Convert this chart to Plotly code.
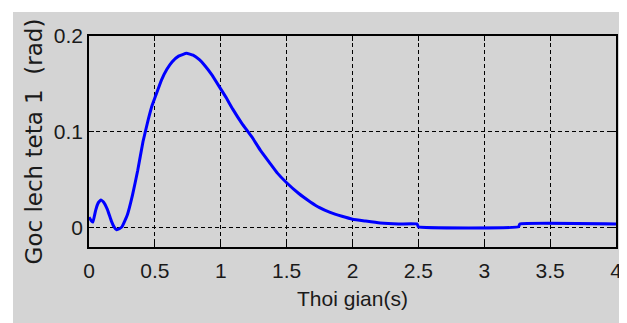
import plotly.graph_objects as go

# Data
t = [0.0, 0.02, 0.03, 0.05, 0.07, 0.09, 0.11, 0.14, 0.17, 0.19, 0.21, 0.23,
     0.25, 0.29, 0.33, 0.37, 0.41, 0.45, 0.48, 0.52, 0.55, 0.59, 0.63, 0.68,
     0.74, 0.79, 0.84, 0.88, 0.93, 0.99, 1.04, 1.09, 1.16, 1.24, 1.30, 1.37,
     1.43, 1.50, 1.59, 1.68, 1.75, 1.83, 1.92, 2.00, 2.10, 2.21, 2.35, 2.49,
     2.50, 3.26, 3.27, 4.0]
theta = [0.011, 0.007, 0.006, 0.018, 0.026, 0.029, 0.027, 0.019, 0.007, 0.001, -0.002, -0.001,
         0.001, 0.013, 0.034, 0.060, 0.090, 0.113, 0.128, 0.143, 0.154, 0.165, 0.173, 0.179,
         0.182, 0.180, 0.175, 0.169, 0.160, 0.147, 0.136, 0.124, 0.109, 0.094, 0.081, 0.068,
         0.057, 0.047, 0.036, 0.027, 0.021, 0.016, 0.012, 0.009, 0.007, 0.005, 0.004, 0.004,
         0.001, 0.001, 0.004, 0.004]

x_ticks = [0, 0.5, 1, 1.5, 2, 2.5, 3, 3.5, 4]
x_ticklabels = ["0", "0.5", "1", "1.5", "2", "2.5", "3", "3.5", "4"]
y_ticks = [0, 0.1, 0.2]
y_ticklabels = ["0", "0.1", "0.2"]

arial = "Liberation Sans, Arial, sans-serif"

fig = go.Figure()
fig.add_trace(go.Scatter(x=t, y=theta, mode="lines",
                         line=dict(color="#0000ff", width=3, shape="spline", smoothing=0.3),
                         showlegend=False))

axis_common = dict(showline=True, linecolor="black", linewidth=1.5, mirror="ticks",
                   ticks="inside", ticklen=5, tickcolor="black", automargin=False,
                   showgrid=True, gridcolor="black", gridwidth=1, griddash="4px,3px",
                   zeroline=False, tickfont=dict(family=arial, size=21, color="#1a1a1a"))

fig.update_xaxes(range=[0, 4], tickvals=x_ticks, ticktext=x_ticklabels, ticklabelstandoff=4,
                 title=dict(text="Thoi gian(s)", font=dict(family=arial, size=21, color="#1a1a1a"),
                            standoff=10),
                 **axis_common)
fig.update_yaxes(range=[-0.02, 0.2], tickvals=y_ticks, ticktext=y_ticklabels,
                 title=dict(text="Goc lech teta 1\u00a0 (rad)",
                            font=dict(family="DejaVu Sans, sans-serif", size=23, color="#1a1a1a"),
                            standoff=5),
                 **axis_common)

fig.add_shape(type="rect", xref="paper", yref="paper",
              x0=-0.1442, x1=1.0133, y0=-0.37, y1=1.1137,
              fillcolor="#d4d4d4", line=dict(width=0), layer="below")

# page body adds an 8px offset; figure is sized to fill the rest of the window
fig.update_layout(width=619, height=315,
                  margin=dict(l=81, r=11, t=28, b=76),
                  paper_bgcolor="white", plot_bgcolor="white")

fig.write_html("out.html")
